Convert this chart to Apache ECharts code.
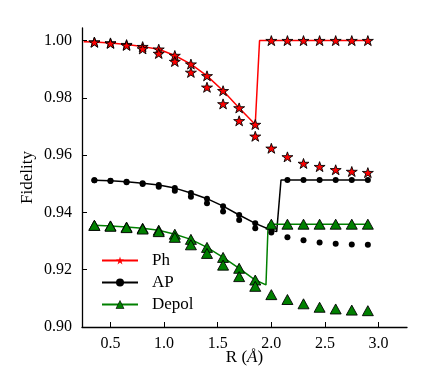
<!DOCTYPE html>
<html>
<head>
<meta charset="utf-8">
<script src="https://cdn.jsdelivr.net/npm/echarts@6/dist/echarts.min.js"></script>
<style>
    html, body { margin: 0; padding: 0; background: #fff; }
    #chart { width: 435px; height: 381px; }
</style>
</head>
<body>
<div id="chart"></div>
<script>
// bond length R (Å)
var R = [0.35, 0.5, 0.65, 0.8, 0.95, 1.1, 1.25, 1.4, 1.55, 1.7, 1.85, 2.0, 2.15, 2.3, 2.45, 2.6, 2.75, 2.9];

// markers, two sets per noise model
var phUpper = [0.9995, 0.9992, 0.9986, 0.9979, 0.9970, 0.9948, 0.9918, 0.9877, 0.9825, 0.9765, 0.9707, 1.0, 1.0, 1.0, 1.0, 1.0, 1.0, 1.0];
var phLower = [0.9994, 0.9990, 0.9983, 0.9971, 0.9955, 0.9927, 0.9889, 0.9837, 0.9779, 0.9720, 0.9666, 0.9624, 0.9594, 0.9571, 0.9560, 0.9549, 0.9543, 0.9539];
var apUpper = [0.9512, 0.9511, 0.9507, 0.9502, 0.9496, 0.9485, 0.9468, 0.9448, 0.9422, 0.9391, 0.9362, 0.9340, 0.9513, 0.9513, 0.9513, 0.9513, 0.9513, 0.9513];
var apLower = [0.9512, 0.9510, 0.9505, 0.9499, 0.9490, 0.9476, 0.9455, 0.9432, 0.9403, 0.9374, 0.9345, 0.9330, 0.9313, 0.9303, 0.9295, 0.9291, 0.9288, 0.9287];
var depUpper = [0.9355, 0.9353, 0.9349, 0.9345, 0.9338, 0.9324, 0.9306, 0.9278, 0.9243, 0.9205, 0.9164, 0.9359, 0.9359, 0.9359, 0.9359, 0.9359, 0.9359, 0.9359];
var depLower = [0.9355, 0.9352, 0.9347, 0.9342, 0.9333, 0.9313, 0.9287, 0.9257, 0.9216, 0.9176, 0.9142, 0.9113, 0.9096, 0.9081, 0.9069, 0.9063, 0.9059, 0.9057];

// solid curves
var phLineR = [0.25, 0.35, 0.5, 0.65, 0.8, 0.95, 1.1, 1.25, 1.4, 1.55, 1.7, 1.85, 1.89, 2.0, 2.15, 2.3, 2.45, 2.6, 2.75, 2.9];
var phLine = [0.9996, 0.9995, 0.9992, 0.9986, 0.9979, 0.9970, 0.9948, 0.9918, 0.9877, 0.9825, 0.9765, 0.9707, 1.0, 1.0, 1.0, 1.0, 1.0, 1.0, 1.0, 1.0];
var apLineR = [0.35, 0.5, 0.65, 0.8, 0.95, 1.1, 1.25, 1.4, 1.55, 1.7, 1.85, 2.0, 2.05, 2.09, 2.15, 2.3, 2.45, 2.6, 2.75, 2.9];
var apLine = [0.9512, 0.9511, 0.9507, 0.9502, 0.9496, 0.9485, 0.9468, 0.9448, 0.9422, 0.9391, 0.9362, 0.9338, 0.9333, 0.9513, 0.9513, 0.9513, 0.9513, 0.9513, 0.9513, 0.9513];
var depLineR = [0.35, 0.5, 0.65, 0.8, 0.95, 1.1, 1.25, 1.4, 1.55, 1.7, 1.85, 1.95, 1.97, 2.0, 2.15, 2.3, 2.45, 2.6, 2.75, 2.9];
var depLine = [0.9355, 0.9353, 0.9349, 0.9345, 0.9338, 0.9324, 0.9306, 0.9278, 0.9243, 0.9205, 0.9164, 0.9147, 0.9359, 0.9359, 0.9359, 0.9359, 0.9359, 0.9359, 0.9359, 0.9359];

var xTicks = [0.5, 1.0, 1.5, 2.0, 2.5, 3.0];
var yTicks = [0.90, 0.92, 0.94, 0.96, 0.98, 1.00];

var font = "'Liberation Serif', 'DejaVu Serif', serif";
var star = 'path://M0,-10L2.245,-3.09L9.511,-3.09L3.633,1.18L5.878,8.09L0,3.82L-5.878,8.09L-3.633,1.18L-9.511,-3.09L-2.245,-3.09Z';

function pairs(xs, ys) {
    return xs.map(function (x, i) { return [x, ys[i]]; });
}

var chart = echarts.init(document.getElementById('chart'));

function lineSeries(name, xs, ys, color, symbol) {
    return {
        name: name,
        type: 'line',
        data: pairs(xs, ys),
        showSymbol: false,
        symbol: symbol,
        symbolKeepAspect: true,
        lineStyle: { color: color, width: 1.5 },
        itemStyle: { color: color },
        z: 2,
        silent: true
    };
}

function markerSeries(name, ys, color, symbol, size, border) {
    return {
        name: name,
        type: 'scatter',
        data: pairs(R, ys),
        symbol: symbol,
        symbolSize: size,
        symbolKeepAspect: true,
        itemStyle: { color: color, borderColor: '#000', borderWidth: border, opacity: 1 },
        z: 3,
        silent: true
    };
}

var option = {
    animation: false,
    grid: { left: 82, right: 28, top: 28, bottom: 54 },
    legend: {
        data: [
            { name: 'Ph', itemStyle: { color: '#ff0000', borderWidth: 0 } },
            { name: 'AP', itemStyle: { color: '#000', borderWidth: 0 } },
            { name: 'Depol', itemStyle: { color: '#008000', borderColor: '#000', borderWidth: 0.6 } }
        ],
        orient: 'vertical',
        left: 96,
        top: 247,
        itemWidth: 36,
        itemHeight: 10,
        itemGap: 5,
        textStyle: { fontFamily: font, fontSize: 17, color: '#000', padding: [0, 0, 0, 9] },
        selectedMode: false
    },
    xAxis: {
        type: 'value',
        min: 0.2344,
        max: 3.265,
        name: '{n|R (}{i|Å}{n|)}',
        nameLocation: 'middle',
        nameGap: 22,
        nameMoveOverlap: false,
        nameTextStyle: {
            rich: {
                n: { fontFamily: font, fontSize: 17, color: '#000' },
                i: { fontFamily: font, fontSize: 17, color: '#000', fontStyle: 'italic' }
            }
        },
        axisLine: { lineStyle: { color: '#000', width: 1.3 } },
        axisTick: { inside: true, length: 5, customValues: xTicks, lineStyle: { color: '#000' } },
        axisLabel: {
            customValues: xTicks,
            margin: 9,
            fontFamily: font, fontSize: 16, color: '#000',
            formatter: function (v) { return v.toFixed(1); }
        },
        splitLine: { show: false }
    },
    yAxis: {
        type: 'value',
        min: 0.90,
        max: 1.0044,
        name: 'Fidelity',
        nameLocation: 'middle',
        nameGap: 46,
        nameMoveOverlap: false,
        nameTextStyle: { fontFamily: font, fontSize: 17, color: '#000' },
        axisLine: { show: true, lineStyle: { color: '#000', width: 1.3 } },
        axisTick: { show: true, inside: true, length: 5, customValues: yTicks, lineStyle: { color: '#000' } },
        axisLabel: {
            customValues: yTicks,
            margin: 10,
            fontFamily: font, fontSize: 16, color: '#000',
            formatter: function (v) { return v.toFixed(2); }
        },
        splitLine: { show: false }
    },
    series: [
        lineSeries('Ph', phLineR, phLine, '#ff0000', star),
        lineSeries('AP', apLineR, apLine, '#000000', 'circle'),
        lineSeries('Depol', depLineR, depLine, '#008000', 'triangle'),
        markerSeries('Ph upper', phUpper, '#ff0000', star, [11, 10.5], 0.9),
        markerSeries('Ph lower', phLower, '#ff0000', star, [11, 10.5], 0.9),
        markerSeries('AP upper', apUpper, '#000000', 'circle', 6, 0),
        markerSeries('AP lower', apLower, '#000000', 'circle', 6, 0),
        markerSeries('Depol upper', depUpper, '#008000', 'triangle', [11, 10], 0.9),
        markerSeries('Depol lower', depLower, '#008000', 'triangle', [11, 10], 0.9)
    ]
};

chart.setOption(option);
</script>
</body>
</html>
